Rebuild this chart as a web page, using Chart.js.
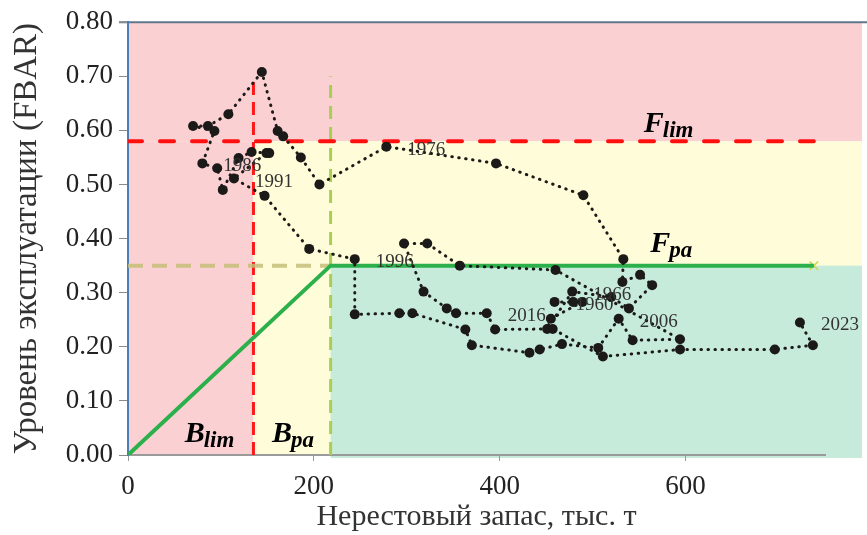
<!DOCTYPE html>
<html>
<head>
<meta charset="utf-8">
<script src="https://cdn.jsdelivr.net/npm/chart.js@4.4.0/dist/chart.umd.min.js"></script>
<style>
    html, body { margin: 0; padding: 0; background: #ffffff; }
    #wrap { width: 867px; height: 535px; }
</style>
</head>
<body>
<div id="wrap"><canvas id="fbarChart" width="867" height="535"></canvas></div>
<script>
// Траектория запаса: нерестовый запас (тыс. т) и FBAR, по порядку лет
const stockSSB = [
    459, 479, 489, 455, 451, 478, 520, 539, 564, 551, 532, 533, 490, 396, 278,
    206, 186, 167, 161, 144, 108, 86, 70, 93, 80, 96, 102, 119, 133, 152, 149,
    114, 147, 195, 244, 244, 292, 306, 363, 370, 432, 443, 467, 506, 528, 543,
    594, 460, 357, 322, 297, 318, 343, 353, 386, 395, 457, 511, 594, 696, 737, 723
];
const stockF = [
    0.283, 0.283, 0.283, 0.252, 0.233, 0.302, 0.292, 0.271, 0.314, 0.333, 0.320, 0.362, 0.480, 0.539, 0.570,
    0.500, 0.550, 0.589, 0.599, 0.708, 0.630, 0.608, 0.608, 0.599, 0.539, 0.530, 0.490, 0.549, 0.560, 0.558, 0.558,
    0.511, 0.479, 0.381, 0.362, 0.260, 0.262, 0.262, 0.232, 0.203, 0.189, 0.195, 0.205, 0.198, 0.252, 0.212,
    0.214, 0.342, 0.350, 0.391, 0.391, 0.302, 0.271, 0.262, 0.262, 0.232, 0.233, 0.182, 0.195, 0.195, 0.203, 0.245
];

// Подписи лет и номер точки, к которой они относятся
const yearLabels = ['1960', '1966', '1976', '1986', '1991', '1996', '2006', '2016', '2023'];
const yearIndex = [0, 5, 14, 24, 31, 34, 44, 54, 61];

// Ориентиры
const Blim = 135;
const Bpa = 218;
const Flim = 0.58;
const Fpa = 0.35;
const refEnd = 738;
const refTop = 0.70;

// Оси
const xMin = 0, xMax = 750, xStep = 200;
const yMin = 0, yMax = 0.8, yStep = 0.1;

const series = stockSSB.map((b, i) => ({ x: b, y: stockF[i] }));

const SERIF = '"Liberation Serif", "Times New Roman", serif';
Chart.defaults.font.family = SERIF;

function drawSub(ctx, main, sub, x, y) {
    ctx.font = 'italic bold 30px ' + SERIF;
    ctx.fillText(main, x, y);
    const w = ctx.measureText(main).width;
    ctx.font = 'italic bold 23px ' + SERIF;
    ctx.fillText(sub, x + w - 1, y + 5);
}

const zonesPlugin = {
    id: 'zones',
    beforeDraw(chart) {
        const ctx = chart.ctx;
        const xs = chart.scales.x, ys = chart.scales.y;
        const left = chart.chartArea.left;
        const right = chart.width - 5;
        const top = ys.getPixelForValue(yMax);
        const bottom = ys.getPixelForValue(yMin);
        const xBlim = xs.getPixelForValue(Blim);
        const xBpa = xs.getPixelForValue(Bpa);
        const yFlim = ys.getPixelForValue(Flim);
        const yFpa = ys.getPixelForValue(Fpa);
        ctx.save();
        // красная зона
        ctx.fillStyle = '#fbd0d3';
        ctx.fillRect(left, top, right - left, yFlim - top);
        ctx.fillRect(left, yFlim, xBlim - left, bottom - yFlim);
        // жёлтая зона
        ctx.fillStyle = '#fffcd9';
        ctx.fillRect(xBlim, yFlim, right - xBlim, bottom - yFlim);
        // зелёная зона
        ctx.fillStyle = '#c7ebdb';
        ctx.fillRect(xBpa, yFpa, right - xBpa, bottom - yFpa + 3);
        // верхняя рамка
        ctx.strokeStyle = '#60768a';
        ctx.lineWidth = 2;
        ctx.beginPath();
        ctx.moveTo(left - 9, top);
        ctx.lineTo(chart.width, top);
        ctx.stroke();
        ctx.restore();
    },
    afterDatasetsDraw(chart) {
        const ctx = chart.ctx;
        const xs = chart.scales.x, ys = chart.scales.y;
        ctx.save();
        // годы
        ctx.fillStyle = '#333333';
        ctx.font = '19px ' + SERIF;
        ctx.textBaseline = 'middle';
        yearLabels.forEach((t, i) => {
            const k = yearIndex[i];
            ctx.fillText(t, xs.getPixelForValue(stockSSB[k]) + 21, ys.getPixelForValue(stockF[k]) + 3);
        });
        // обозначения ориентиров
        ctx.fillStyle = '#000000';
        ctx.textBaseline = 'alphabetic';
        drawSub(ctx, 'F', 'lim', xs.getPixelForValue(555), ys.getPixelForValue(0.597));
        drawSub(ctx, 'F', 'pa', xs.getPixelForValue(562), ys.getPixelForValue(0.375));
        drawSub(ctx, 'B', 'lim', xs.getPixelForValue(61), ys.getPixelForValue(0.024));
        drawSub(ctx, 'B', 'pa', xs.getPixelForValue(155), ys.getPixelForValue(0.024));
        ctx.restore();
    }
};

const ctx = document.getElementById('fbarChart').getContext('2d');
new Chart(ctx, {
    type: 'scatter',
    data: {
        datasets: [
            {
                label: 'FBAR',
                data: series,
                showLine: true,
                borderColor: '#1c1a18',
                borderWidth: 3,
                borderDash: [0.5, 6.5],
                borderCapStyle: 'round',
                pointRadius: 5,
                pointBackgroundColor: '#1c1a18',
                pointBorderColor: '#1c1a18',
                pointBorderWidth: 0
            },
            {
                label: 'Fpa',
                data: [{ x: 0, y: 0 }, { x: Bpa, y: Fpa }, { x: refEnd, y: Fpa }],
                showLine: true,
                borderColor: '#2cb04c',
                borderWidth: 4,
                pointRadius: 0
            },
            {
                label: 'Fpa left',
                data: [{ x: 0, y: Fpa }, { x: Bpa, y: Fpa }],
                showLine: true,
                borderColor: 'rgba(196, 190, 120, 0.85)',
                borderWidth: 4,
                borderDash: [15, 9],
                pointRadius: 0
            },
            {
                label: 'Flim',
                data: [{ x: 0, y: Flim }, { x: refEnd, y: Flim }],
                showLine: true,
                borderColor: '#ff1010',
                borderWidth: 4,
                borderDash: [14, 18],
                borderCapStyle: 'round',
                pointRadius: 0
            },
            {
                label: 'Blim',
                data: [{ x: Blim, y: 0 }, { x: Blim, y: refTop }],
                showLine: true,
                borderColor: '#ff1a1a',
                borderWidth: 3,
                borderDash: [13, 7],
                pointRadius: 0
            },
            {
                label: 'Bpa',
                data: [{ x: Bpa, y: 0 }, { x: Bpa, y: refTop }],
                showLine: true,
                borderColor: '#a9cf52',
                borderWidth: 3,
                borderDash: [13, 8],
                pointRadius: 0
            },
            {
                label: 'end',
                data: [{ x: refEnd, y: Fpa }],
                pointStyle: 'crossRot',
                pointRadius: 6,
                pointBorderWidth: 1.5,
                pointBorderColor: '#c9d84a',
                pointBackgroundColor: '#c9d84a'
            }
        ]
    },
    options: {
        responsive: false,
        animation: false,
        devicePixelRatio: 1,
        layout: { padding: { top: 22, right: 42, left: 0, bottom: 0 } },
        plugins: {
            legend: { display: false },
            tooltip: { enabled: false }
        },
        scales: {
            x: {
                type: 'linear',
                min: xMin,
                max: xMax,
                ticks: {
                    stepSize: xStep,
                    includeBounds: false,
                    padding: 10,
                    color: '#222222',
                    font: { family: SERIF, size: 27 }
                },
                grid: { drawOnChartArea: false, tickLength: 6, tickColor: '#9a9a9a' },
                border: { color: '#9a9a9a', width: 2 },
                title: {
                    display: true,
                    text: 'Нерестовый запас, тыс. т',
                    color: '#333333',
                    font: { family: SERIF, size: 30 },
                    padding: { top: 0, bottom: 0 }
                },
                afterFit(scale) { scale.height = 80; }
            },
            y: {
                min: yMin,
                max: yMax,
                ticks: {
                    stepSize: yStep,
                    padding: 6,
                    color: '#222222',
                    font: { family: SERIF, size: 27 },
                    callback: v => v.toFixed(2)
                },
                grid: { drawOnChartArea: false, tickLength: 9, tickColor: '#8a8a8a' },
                border: { color: '#4a7ebb', width: 2 },
                title: {
                    display: true,
                    text: 'Уровень эксплуатации (FBAR)',
                    color: '#333333',
                    font: { family: SERIF, size: 33 },
                    padding: { top: 8, bottom: 0 }
                },
                afterFit(scale) { scale.width = 128; }
            }
        }
    },
    plugins: [zonesPlugin]
});
</script>
</body>
</html>
